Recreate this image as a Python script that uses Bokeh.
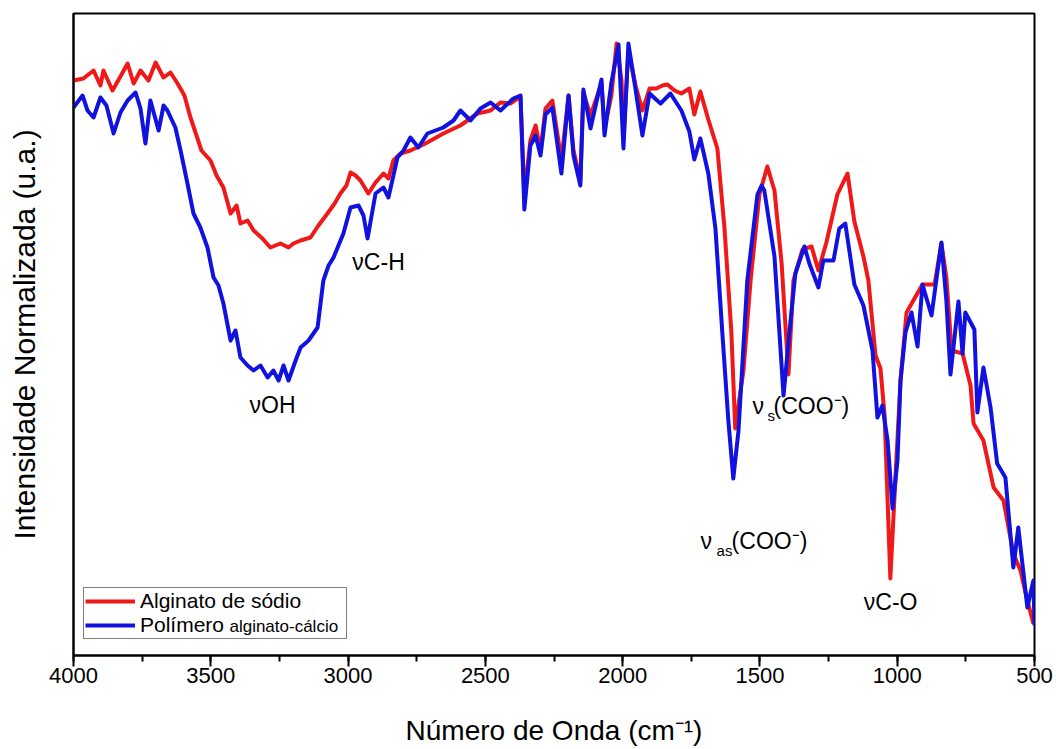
from bokeh.plotting import figure
from bokeh.models import (Range1d, SingleIntervalTicker, FixedTicker, Legend,
                          LegendItem, Label, ColumnDataSource)
from bokeh.embed import file_html
from bokeh.resources import INLINE

# ---------------- data ----------------
red_wn = [4000, 3964, 3927, 3902, 3891, 3858, 3829, 3803, 3781, 3756, 3727, 3701,
          3672, 3647, 3621, 3596, 3574, 3552, 3534, 3501, 3479, 3454, 3428, 3406,
          3392, 3366, 3344, 3312, 3283, 3246, 3217, 3199, 3173, 3137, 3108, 3075,
          3049, 3028, 3006, 2991, 2973, 2955, 2926, 2900, 2871, 2853, 2835, 2809,
          2773, 2718, 2653, 2591, 2529, 2481, 2445, 2409, 2383, 2372, 2358, 2336,
          2317, 2299, 2281, 2256, 2223, 2197, 2179, 2154, 2143, 2117, 2077, 2066,
          2041, 2022, 2004, 1997, 1979, 1953, 1928, 1902, 1877, 1855, 1837, 1811,
          1786, 1757, 1739, 1717, 1688, 1655, 1629, 1604, 1590, 1560, 1534, 1502,
          1473, 1447, 1421, 1396, 1378, 1345, 1312, 1287, 1258, 1218, 1181, 1156,
          1123, 1105, 1079, 1061, 1046, 1025, 1006, 988, 966, 908, 864, 839, 821,
          802, 762, 733, 722, 686, 649, 613, 577, 551, 526, 504]
red_int = [575, 577, 585, 570, 585, 565, 579, 592, 572, 585, 575, 593,
           578, 583, 572, 560, 538, 520, 505, 495, 480, 468, 442, 450,
           432, 435, 425, 417, 408, 412, 408, 412, 415, 418, 430, 442,
           452, 462, 470, 483, 480, 475, 462, 473, 482, 477, 495, 502,
           505, 512, 522, 530, 542, 545, 553, 552, 557, 558, 460, 515,
           530, 505, 547, 555, 495, 560, 505, 475, 563, 540, 572, 527,
           560, 612, 575, 515, 605, 570, 545, 567, 567, 570, 571, 565,
           562, 567, 541, 564, 536, 507, 427, 323, 227, 285, 375, 461,
           489, 465, 392, 281, 375, 406, 409, 385, 413, 461, 482, 434,
           399, 375, 300, 287, 240, 77, 180, 275, 343, 371, 371, 412, 378,
           305, 302, 270, 232, 215, 168, 155, 102, 85, 55, 32]

blue_wn = [4000, 3967, 3949, 3927, 3902, 3880, 3854, 3829, 3803, 3774, 3756, 3738,
           3720, 3690, 3672, 3658, 3629, 3610, 3585, 3563, 3538, 3512, 3490, 3472,
           3454, 3428, 3410, 3392, 3366, 3344, 3319, 3293, 3272, 3253, 3235, 3217,
           3191, 3173, 3144, 3111, 3090, 3071, 3053, 3017, 2991, 2962, 2944, 2929,
           2900, 2871, 2853, 2820, 2798, 2773, 2744, 2711, 2653, 2616, 2591, 2554,
           2518, 2481, 2445, 2398, 2372, 2358, 2336, 2317, 2299, 2281, 2256, 2223,
           2197, 2179, 2154, 2143, 2117, 2077, 2066, 2041, 2015, 1997, 1979, 1953,
           1928, 1902, 1862, 1826, 1786, 1757, 1739, 1717, 1688, 1662, 1637, 1615,
           1597, 1578, 1546, 1509, 1494, 1484, 1447, 1414, 1392, 1371, 1338, 1320,
           1287, 1269, 1232, 1211, 1189, 1156, 1123, 1090, 1072, 1054, 1035, 1017,
           999, 988, 970, 948, 926, 908, 875, 839, 821, 806, 777, 762, 752, 719,
           708, 686, 660, 636, 606, 577, 559, 526, 504, 500]
blue_int = [548, 560, 545, 538, 558, 550, 522, 543, 555, 563, 547, 512,
            555, 525, 550, 545, 528, 505, 472, 442, 428, 408, 378, 370,
            352, 315, 325, 298, 290, 285, 290, 278, 285, 275, 290, 275,
            295, 308, 315, 328, 375, 390, 398, 422, 448, 450, 440, 417,
            462, 468, 458, 498, 505, 518, 508, 522, 528, 535, 545, 535,
            547, 553, 545, 557, 560, 446, 510, 520, 500, 541, 548, 482,
            560, 500, 470, 566, 527, 576, 520, 573, 611, 507, 612, 566,
            520, 562, 552, 562, 545, 524, 496, 517, 482, 427, 323, 235,
            177, 225, 375, 461, 470, 465, 399, 260, 325, 382, 409, 392,
            368, 395, 395, 427, 432, 371, 350, 305, 238, 250, 215, 147,
            195, 275, 323, 343, 309, 371, 340, 413, 355, 281, 354, 302, 343, 326,
            243, 288, 248, 192, 178, 88, 128, 48, 75, 30]

series_names = ["Alginato de sódio", "Polímero"]
legend_extra = "alginato-cálcio"
x_ticks_major = 500

# simple band labels: text, wavenumber, intensity
ann_text = ["νOH", "νC-H", "νC-O"]
ann_x = [3275, 2889, 1024]
ann_y = [251, 394, 54]

FONT = "Liberation Sans"
RED = "#F01818"
BLUE = "#1212E0"

p = figure(width=1055, height=749,
           x_range=Range1d(4000, 500), y_range=Range1d(0, 642),
           output_backend="svg", toolbar_location=None,
           min_border_left=73, min_border_top=13, min_border_right=21,
           min_border_bottom=94, background_fill_color="white")

p.xgrid.visible = False
p.ygrid.visible = False
p.outline_line_color = "black"
p.outline_line_width = 2

# x axis
xa = p.xaxis[0]
xa.ticker = SingleIntervalTicker(interval=x_ticks_major, num_minor_ticks=2)
xa.axis_label = "Número de Onda (cm⁻¹)"
xa.axis_label_text_font = FONT
xa.axis_label_text_font_size = "28px"
xa.axis_label_text_font_style = "normal"
xa.axis_label_text_color = "black"
xa.axis_label_standoff = 29
xa.major_label_text_font = FONT
xa.major_label_text_font_size = "22px"
xa.major_label_text_color = "black"
xa.major_label_standoff = 1
xa.axis_line_width = 2
xa.axis_line_color = "black"
xa.major_tick_line_width = 2
xa.minor_tick_line_width = 2
xa.major_tick_line_color = "black"
xa.minor_tick_line_color = "black"
xa.major_tick_in = 0
xa.major_tick_out = 11
xa.minor_tick_in = 0
xa.minor_tick_out = 6

# y axis (no ticks)
ya = p.yaxis[0]
ya.ticker = FixedTicker(ticks=[])
ya.major_label_text_font_size = "0px"
ya.major_tick_out = 0
ya.major_tick_in = 0
ya.minor_tick_out = 0
ya.minor_tick_in = 0
ya.major_label_standoff = 0
ya.axis_label = "Intensidade Normalizada (u.a.)"
ya.axis_label_text_font = FONT
ya.axis_label_text_font_size = "30px"
ya.axis_label_text_font_style = "normal"
ya.axis_label_text_color = "black"
ya.axis_label_standoff = 33
ya.axis_line_width = 2
ya.axis_line_color = "black"

src_red = ColumnDataSource(dict(x=red_wn, y=red_int))
src_blue = ColumnDataSource(dict(x=blue_wn, y=blue_int))
r_red = p.line("x", "y", source=src_red, line_color=RED, line_width=4, line_join="round")
r_blue = p.line("x", "y", source=src_blue, line_color=BLUE, line_width=4, line_join="round")

# band labels
for t, x, y in zip(ann_text, ann_x, ann_y):
    p.add_layout(Label(x=x, y=y, text=t, text_font=FONT, text_font_size="23px",
                       text_align="center", text_baseline="middle", text_color="black"))

# composite labels with subscripts: (anchor wn, anchor intensity, [(text, x_offset, dy, size)])
composite = [
    (1527, 250, [("ν", 0, 0, "23px"), ("s", 15, -10, "15px"), ("(COO⁻)", 21, 0, "23px")]),
    (1716, 115, [("ν", 0, 0, "23px"), ("as", 16, -10, "15px"), ("(COO⁻)", 31, 0, "23px")]),
]
for ax, ay, parts in composite:
    for t, dx, dy, fs in parts:
        p.add_layout(Label(x=ax, y=ay + dy, x_offset=dx, text=t, text_font=FONT,
                           text_font_size=fs, text_align="left",
                           text_baseline="middle", text_color="black"))

legend = Legend(items=[LegendItem(label=series_names[0], renderers=[r_red]),
                       LegendItem(label=series_names[1], renderers=[r_blue])],
                location=(10, 16), margin=0, padding=1, spacing=0,
                glyph_width=50, glyph_height=24, label_height=24, label_width=205,
                label_standoff=5, label_text_font=FONT, label_text_font_size="21px",
                label_text_color="black", border_line_color="black",
                border_line_width=1, background_fill_alpha=0.0)
p.add_layout(legend)

p.add_layout(Label(x=3432, y=29, text=legend_extra, text_font=FONT,
                   text_font_size="17px", text_align="left", level="overlay",
                   text_baseline="alphabetic", text_color="black"))

open("out.html", "w").write(file_html(p, INLINE))
